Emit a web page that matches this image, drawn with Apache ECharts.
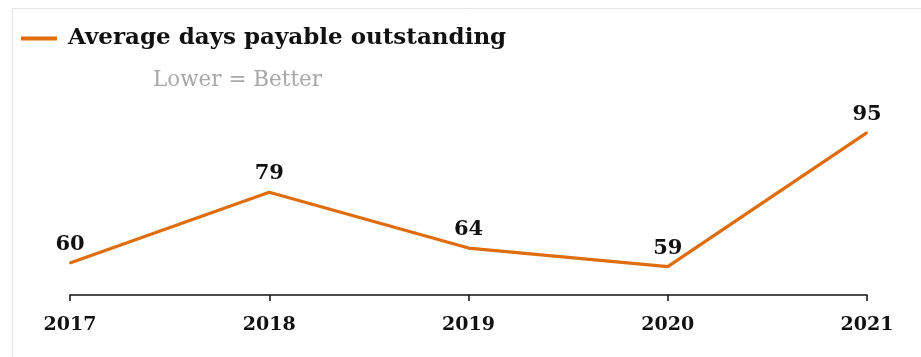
<!DOCTYPE html>
<html>
<head>
<meta charset="utf-8">
<script src="https://cdn.jsdelivr.net/npm/echarts@6/dist/echarts.min.js"></script>
<style>
  html, body { margin: 0; padding: 0; background: #fff; }
  #chart { width: 921px; height: 357px; }
</style>
</head>
<body>
<div id="chart"></div>
<script>
// chart data
const years = ['2017', '2018', '2019', '2020', '2021']
const dpo = [60, 79, 64, 59, 95]
const seriesName = 'Average days payable outstanding'
const note = 'Lower = Better'

const orange = '#DF6D0E'
const serif = '"DejaVu Serif", Georgia, serif'

const chart = echarts.init(document.getElementById('chart'))

chart.setOption({
  animation: false,
  // thin frame on top and left, as in the original picture
  graphic: [
    { type: 'line', shape: { x1: 12, y1: 8.5, x2: 921, y2: 8.5 }, style: { stroke: '#e3e3e3', lineWidth: 1 } },
    { type: 'line', shape: { x1: 12.5, y1: 8, x2: 12.5, y2: 357 }, style: { stroke: '#e3e3e3', lineWidth: 1 } }
  ],
  title: {
    text: note,
    left: 148,
    top: 64,
    textStyle: {
      fontFamily: serif,
      fontWeight: 'normal',
      fontSize: 21.5,
      color: '#a8a8a8'
    }
  },
  legend: {
    left: 16,
    top: 22,
    itemWidth: 36,
    itemHeight: 4,
    itemGap: 10,
    icon: 'rect',
    data: [{ name: seriesName, itemStyle: { color: orange, opacity: 1 } }],
    textStyle: {
      fontFamily: serif,
      fontWeight: 'bold',
      fontSize: 23,
      color: '#111',
      padding: [0, 0, 0, 6]
    }
  },
  grid: {
    left: 70,
    right: 54,
    top: 114,
    bottom: 62
  },
  xAxis: {
    type: 'category',
    data: years,
    boundaryGap: false,
    axisLine: { lineStyle: { color: '#111', width: 1.5 } },
    axisTick: { show: true, length: 6, alignWithLabel: true, lineStyle: { color: '#111', width: 1.5 } },
    axisLabel: {
      margin: 21,
      fontFamily: serif,
      fontWeight: 'bold',
      fontSize: 19,
      color: '#111'
    }
  },
  yAxis: {
    type: 'value',
    min: 51.4,
    max: 100,
    show: false,
    splitLine: { show: false }
  },
  series: [
    {
      name: seriesName,
      type: 'line',
      data: dpo,
      symbol: 'circle',
      symbolSize: 2,
      showSymbol: true,
      itemStyle: { color: orange },
      color: orange,
      lineStyle: { color: orange, width: 3.2 },
      label: {
        show: true,
        position: 'top',
        distance: 7,
        fontFamily: serif,
        fontWeight: 'bold',
        fontSize: 21,
        color: '#111'
      }
    }
  ]
})
</script>
</body>
</html>
